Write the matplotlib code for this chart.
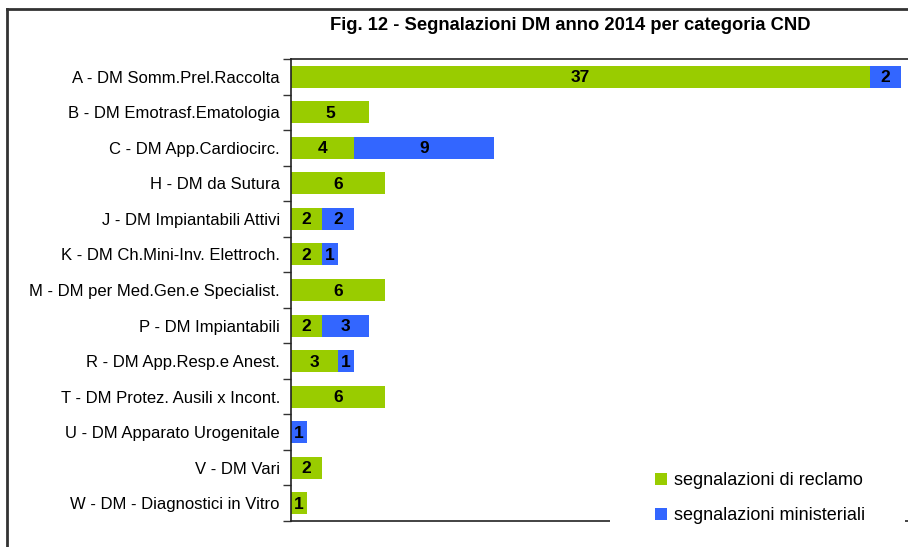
import matplotlib
matplotlib.use("Agg")
import matplotlib.pyplot as plt
from matplotlib.lines import Line2D
from matplotlib.patches import Rectangle
import numpy as np

plt.rcParams['font.family'] = ['Liberation Sans', 'DejaVu Sans']

categories = [
    "A - DM Somm.Prel.Raccolta",
    "B - DM Emotrasf.Ematologia",
    "C - DM App.Cardiocirc.",
    "H - DM da Sutura",
    "J - DM Impiantabili Attivi",
    "K - DM Ch.Mini-Inv. Elettroch.",
    "M - DM per Med.Gen.e Specialist.",
    "P - DM Impiantabili",
    "R - DM App.Resp.e Anest.",
    "T - DM Protez. Ausili x Incont.",
    "U - DM Apparato Urogenitale",
    "V - DM Vari",
    "W - DM - Diagnostici in Vitro",
]
reclamo = [37, 5, 4, 6, 2, 2, 6, 2, 3, 6, 0, 2, 1]
ministeriali = [2, 0, 9, 0, 2, 1, 0, 3, 1, 0, 1, 0, 0]
series_names = ["segnalazioni di reclamo", "segnalazioni ministeriali"]
title = "Fig. 12 - Segnalazioni DM anno 2014 per categoria CND"

green = "#99cc00"
blue = "#3366ff"

W, H = 908, 547
fig = plt.figure(figsize=(W / 100, H / 100), dpi=100)

# axes geometry in pixels
x0, x1 = 291, 917
y_top, y_bot = 59, 521
ax = fig.add_axes([x0 / W, (H - y_bot) / H, (x1 - x0) / W, (y_bot - y_top) / H])

y = np.arange(len(categories))
bh = 0.62
ax.barh(y, reclamo, height=bh, color=green, label=series_names[0])
ax.barh(y, ministeriali, left=reclamo, height=bh, color=blue, label=series_names[1])

for i, (g, b) in enumerate(zip(reclamo, ministeriali)):
    if g > 0:
        ax.text(g / 2, i + 0.03, str(g), ha="center", va="center", fontsize=12.5,
                fontweight="bold", color="black")
    if b > 0:
        ax.text(g + b / 2, i + 0.03, str(b), ha="center", va="center", fontsize=12.5,
                fontweight="bold", color="black")

ax.set_xlim(0, 40)
ax.set_ylim(len(categories) - 0.5, -0.5)
ax.set_yticks(y)
ax.set_yticklabels(categories, fontsize=12)
ax.tick_params(axis="y", which="major", length=0, pad=8)
ax.set_yticks(np.arange(-0.5, len(categories)), minor=True)
ax.tick_params(axis="y", which="minor", length=6, width=1, color="#333333", direction="out")
ax.set_xticks([])
for s in ["top", "bottom", "left"]:
    ax.spines[s].set_color("#222222")
    ax.spines[s].set_linewidth(1.2)
ax.spines["right"].set_visible(False)

leg = fig.legend(*ax.get_legend_handles_labels(), loc="center left",
                 bbox_to_anchor=(655 / W, 1 - 498 / H),
                 frameon=False, fontsize=13, handlelength=0.65, handleheight=0.65,
                 handletextpad=0.4, labelspacing=1.0, borderpad=0, borderaxespad=0)
leg.set_zorder(6)

# white legend area hiding part of the bottom axis line
fig.add_artist(Rectangle((610 / W, 1 - 535 / H), (905 - 610) / W, 80 / H,
                         transform=fig.transFigure, facecolor="white",
                         edgecolor="none", zorder=5))

fig.text(570 / W, 1 - 25 / H, title, ha="center", va="center",
         fontsize=13.2, fontweight="bold")

# outer frame (top and left)
fig.add_artist(Line2D([7 / W, 1], [1 - 9 / H, 1 - 9 / H], color="#333333", lw=2,
                      transform=fig.transFigure))
fig.add_artist(Line2D([7 / W, 7 / W], [0, 1 - 9 / H], color="#333333", lw=2,
                      transform=fig.transFigure))

fig.savefig("out.png", dpi=100)
